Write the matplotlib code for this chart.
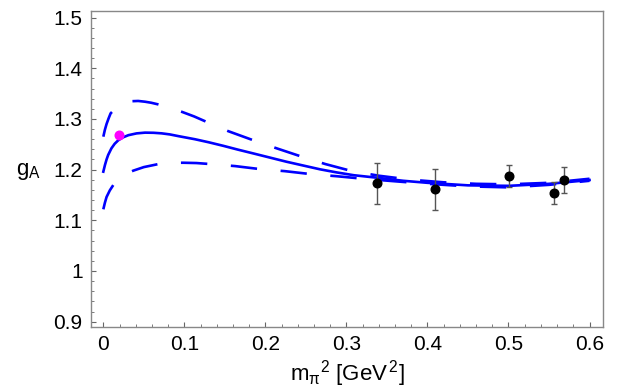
import numpy as np
import matplotlib
matplotlib.use("Agg")
import matplotlib.pyplot as plt
from matplotlib.ticker import MultipleLocator

plt.rcParams['font.family'] = ['Liberation Sans', 'DejaVu Sans']
plt.rcParams['mathtext.fontset'] = 'custom'
plt.rcParams['mathtext.rm'] = 'Liberation Sans'
plt.rcParams['mathtext.it'] = 'Liberation Sans:italic'
plt.rcParams['lines.scale_dashes'] = False

# central fit curve
solid_x = [0.000, 0.002, 0.004, 0.006, 0.010, 0.014, 0.0185, 0.024, 0.031, 0.041, 0.0515,
           0.062, 0.072, 0.082, 0.093, 0.103, 0.113, 0.130, 0.148, 0.166, 0.185, 0.205,
           0.226, 0.247, 0.2675, 0.288, 0.309, 0.338, 0.37, 0.40, 0.45, 0.50, 0.55, 0.60]
solid_y = [1.196, 1.209, 1.220, 1.229, 1.242, 1.251, 1.258, 1.2635, 1.268, 1.2715, 1.273,
           1.2727, 1.2716, 1.2695, 1.266, 1.263, 1.260, 1.254, 1.247, 1.2395, 1.232, 1.224,
           1.2156, 1.208, 1.2006, 1.1945, 1.189, 1.184, 1.178, 1.174, 1.169, 1.168, 1.172, 1.1795]

# upper band
upper_x = [0.000, 0.002, 0.004, 0.0065, 0.009, 0.014, 0.020, 0.027, 0.035, 0.043, 0.0515,
           0.059, 0.067, 0.082, 0.097, 0.112, 0.127, 0.154, 0.185, 0.214, 0.245, 0.274,
           0.307, 0.34, 0.38, 0.42, 0.46, 0.50, 0.55, 0.60]
upper_y = [1.265, 1.279, 1.290, 1.301, 1.311, 1.319, 1.326, 1.331, 1.335, 1.3355, 1.334,
           1.332, 1.329, 1.322, 1.314, 1.305, 1.2945, 1.276, 1.258, 1.242, 1.2255, 1.211,
           1.197, 1.188, 1.180, 1.175, 1.172, 1.171, 1.174, 1.182]

# lower band
lower_x = [0.000, 0.002, 0.004, 0.008, 0.0123, 0.018, 0.024, 0.030, 0.037, 0.050, 0.068,
           0.083, 0.0988, 0.115, 0.132, 0.1626, 0.1935, 0.224, 0.257, 0.288, 0.321, 0.36,
           0.40, 0.45, 0.50, 0.55, 0.60]
lower_y = [1.1217, 1.135, 1.146, 1.159, 1.1696, 1.179, 1.187, 1.193, 1.198, 1.205, 1.211,
           1.2135, 1.2136, 1.213, 1.211, 1.207, 1.201, 1.197, 1.191, 1.187, 1.182, 1.177,
           1.172, 1.167, 1.165, 1.170, 1.178]

# lattice points
lat_x = [0.338, 0.409, 0.501, 0.556, 0.568]
lat_y = [1.173, 1.161, 1.188, 1.154, 1.179]
lat_err = [0.041, 0.040, 0.022, 0.021, 0.026]

# physical point
phys_x = [0.0194]
phys_y = [1.268]

fig = plt.figure(figsize=(6.26, 3.9), dpi=100)
ax = fig.add_axes([91/626, 1 - 327/390, (603.3 - 91)/626, (327 - 11)/390])

dash = (0, (19.0, 17.0))
ax.plot(upper_x, upper_y, color='#0000ff', lw=1.9, linestyle=dash)
ax.plot(lower_x, lower_y, color='#0000ff', lw=1.9, linestyle=dash)
ax.plot(solid_x, solid_y, color='#0000ff', lw=1.9)

ax.errorbar(lat_x, lat_y, yerr=lat_err, fmt='o', color='black', markersize=6.2,
            ecolor='#555555', elinewidth=1.0, capsize=2.5, capthick=1.0, zorder=5)
ax.plot(phys_x, phys_y, 'o', color='#ff00ff', markersize=6.2, zorder=5)

ax.set_xlim(-0.0152, 0.617)
ax.set_ylim(0.8895, 1.513)
ax.xaxis.set_minor_locator(MultipleLocator(0.02))
ax.yaxis.set_minor_locator(MultipleLocator(0.02))
ax.set_xticks([0, 0.1, 0.2, 0.3, 0.4, 0.5, 0.6])
ax.set_xticklabels(['0', '0.1', '0.2', '0.3', '0.4', '0.5', '0.6'])
ax.set_yticks([0.9, 1.0, 1.1, 1.2, 1.3, 1.4, 1.5])
ax.set_yticklabels(['0.9', '1', '1.1', '1.2', '1.3', '1.4', '1.5'])

for s in ax.spines.values():
    s.set_color('#888888')
    s.set_linewidth(1.0)
ax.tick_params(which='both', direction='in', color='#666666', labelsize=15,
               top=False, right=False, pad=6.0)
ax.tick_params(which='major', length=3.8, width=0.8)
ax.tick_params(which='minor', length=2.2, width=0.6)

ax.set_xlabel(r'$\mathregular{m_{\pi}{}^{2}\ [GeV^{\,2}]}$', fontsize=16, labelpad=3)
fig.text(16/626, 1 - 171/390, r'$\mathregular{g_A}$', fontsize=16,
         ha='left', va='center')

fig.savefig('out.png', dpi=100)
